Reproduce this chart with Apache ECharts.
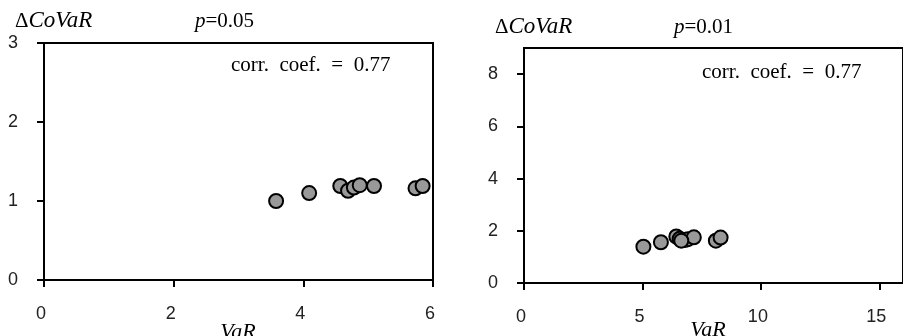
<!DOCTYPE html>
<html>
<head>
<meta charset="utf-8">
<script src="https://cdn.jsdelivr.net/npm/echarts@6/dist/echarts.min.js"></script>
<style>
  html, body { margin: 0; padding: 0; background: #fff; }
  #chart { width: 903px; height: 336px; }
</style>
</head>
<body>
<div id="chart"></div>
<script>
// p = 0.05 panel
const varLeft = [3.58, 4.09, 4.57, 4.69, 4.78, 4.87, 5.09, 5.73, 5.84];
const covarLeft = [1.0, 1.1, 1.19, 1.13, 1.17, 1.2, 1.19, 1.16, 1.19];
// p = 0.01 panel
const varRight = [5.04, 5.78, 6.43, 6.57, 6.8, 6.92, 7.17, 6.64, 8.1, 8.3];
const covarRight = [1.39, 1.56, 1.78, 1.69, 1.65, 1.68, 1.75, 1.62, 1.62, 1.74];

const yTicksRight = [0, 2, 4, 6, 8];
const xTicksRight = [0, 5, 10, 15];
const corrText = "corr.  coef.  =  0.77";

const serif = "'Liberation Serif', 'Times New Roman', serif";
const sans = "'Liberation Sans', Arial, sans-serif";

const chart = echarts.init(document.getElementById("chart"), null, { renderer: "canvas" });

function xAxisBase(gridIndex, max, interval) {
  return {
    type: "value", gridIndex, min: 0, max, interval,
    axisLine: { show: true, onZero: false, lineStyle: { color: "#000", width: 2 } },
    axisTick: { show: true, length: 7, lineStyle: { color: "#000", width: 2 } },
    axisLabel: { color: "#222", fontFamily: sans, fontSize: 18, margin: 25, padding: [0, 6, 0, 0] },
    splitLine: { show: false }
  };
}
function yAxisBase(gridIndex, max, interval) {
  return {
    type: "value", gridIndex, min: 0, max, interval,
    axisLine: { show: true, onZero: false, lineStyle: { color: "#000", width: 2 } },
    axisTick: { show: true, length: 7, lineStyle: { color: "#000", width: 2 } },
    axisLabel: { color: "#222", fontFamily: sans, fontSize: 18, margin: 26 },
    splitLine: { show: false }
  };
}

const xR = xAxisBase(1, 16, 5);
xR.axisTick.customValues = xTicksRight;
xR.axisLabel.customValues = xTicksRight;
const yR = yAxisBase(1, 9, 2);
yR.axisTick.customValues = yTicksRight;
yR.axisLabel.customValues = yTicksRight;

const marker = {
  symbol: "circle", symbolSize: 14,
  itemStyle: { color: "#999999", borderColor: "#000", borderWidth: 2, opacity: 1 }
};

function heading(x, y, px, p) {
  return [
    {
      type: "text", x, y,
      style: {
        text: "{d|Δ}{i|CoVaR}",
        verticalAlign: "middle",
        rich: {
          d: { fontFamily: serif, fontSize: 21, fill: "#000" },
          i: { fontFamily: serif, fontSize: 23, fontStyle: "italic", fill: "#000" }
        }
      }
    },
    {
      type: "text", x: px, y,
      style: {
        text: "{i|p}{n|=" + p + "}",
        verticalAlign: "middle",
        rich: {
          i: { fontFamily: serif, fontSize: 21, fontStyle: "italic", fill: "#000" },
          n: { fontFamily: serif, fontSize: 21, fill: "#000" }
        }
      }
    }
  ];
}

const graphics = [].concat(
  heading(15, 21, 195, "0.05"),
  heading(495, 27, 674, "0.01"),
  [
    { type: "text", x: 231, y: 65, style: { text: corrText, fontFamily: serif, fontSize: 21, fill: "#000", verticalAlign: "middle" } },
    { type: "text", x: 702, y: 72, style: { text: corrText, fontFamily: serif, fontSize: 21, fill: "#000", verticalAlign: "middle" } },
    { type: "text", x: 238, y: 332, style: { text: "VaR", fontFamily: serif, fontSize: 22, fontStyle: "italic", fill: "#000", align: "center", verticalAlign: "middle" } },
    { type: "text", x: 708, y: 330, style: { text: "VaR", fontFamily: serif, fontSize: 22, fontStyle: "italic", fill: "#000", align: "center", verticalAlign: "middle" } }
  ]
);

chart.setOption({
  backgroundColor: "#fff",
  animation: false,
  grid: [
    { left: 44, top: 43, width: 389, height: 237, show: true, borderColor: "#000", borderWidth: 2, backgroundColor: "transparent" },
    { left: 524, top: 48, width: 384, height: 235, show: true, borderColor: "#000", borderWidth: 2, backgroundColor: "transparent" }
  ],
  xAxis: [xAxisBase(0, 6, 2), xR],
  yAxis: [yAxisBase(0, 3, 1), yR],
  graphic: graphics,
  series: [
    Object.assign({ type: "scatter", xAxisIndex: 0, yAxisIndex: 0, data: varLeft.map((v, i) => [v, covarLeft[i]]) }, marker),
    Object.assign({ type: "scatter", xAxisIndex: 1, yAxisIndex: 1, data: varRight.map((v, i) => [v, covarRight[i]]) }, marker)
  ]
});
</script>
</body>
</html>
